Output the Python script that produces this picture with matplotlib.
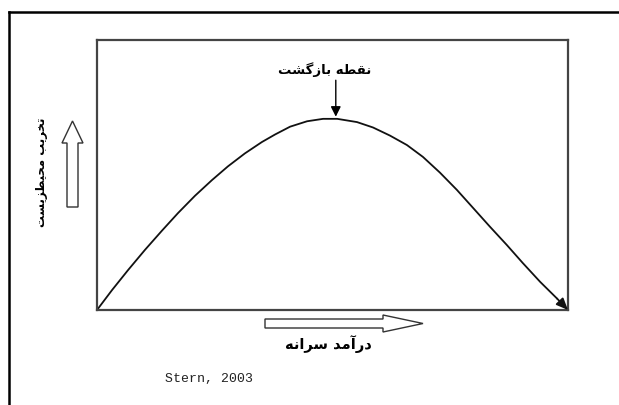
import matplotlib
matplotlib.use('Agg')
import matplotlib.pyplot as plt
from matplotlib.patches import Polygon
from matplotlib.lines import Line2D

# ---- data ----
income = [0, 3.2, 6.6, 10.2, 13.8, 17.2, 20.8, 24.4, 27.8, 31.4, 35.0, 37.8,
          41.0, 44.6, 48.0, 51.0, 55.2, 58.6, 62.2, 65.8, 69.2, 72.8, 76.4,
          79.8, 83.4, 87.0, 90.4, 94.1, 97.7, 100]
degradation = [0, 7.4, 14.8, 22.3, 29.4, 35.9, 42.3, 48.1, 53.2, 58.0, 62.2, 65.0,
               67.9, 69.9, 70.8, 70.8, 69.6, 67.6, 64.6, 61.1, 56.7, 50.9, 44.5,
               37.9, 30.9, 24.1, 17.4, 10.4, 4.2, 0]
peak_x, peak_y = 50.7, 71.1

# Persian labels (pre-shaped presentation forms, visual order)
label_peak = "\uFE96\uFEB8\uFB94\uFEAF\uFE8E\uFE91 \uFEEA\uFEC4\uFED8\uFEE7"      # نقطه بازگشت
label_y = "\uFE96\uFEB4\uFEF3\uFEB0\uFEC4\uFEF4\uFEA4\uFEE3 \uFE90\uFEF3\uFEAE\uFEA8\uFE97"  # تخریب محیطزیست
label_x = "\uFEEA\uFEE7\uFE8D\uFEAE\uFEB3 \uFEAA\uFEE3\uFE81\uFEAD\uFEA9"          # درآمد سرانه
source = "Stern, 2003"

W, H = 619, 405
fig = plt.figure(figsize=(W / 100, H / 100), dpi=100)

# overlay in pixel-like coordinates for frame and decorations
ov = fig.add_axes([0, 0, 1, 1])
ov.set_xlim(0, W)
ov.set_ylim(H, 0)
ov.axis('off')

# outer frame (top and left edges)
ov.add_line(Line2D([8.5, W], [11.5, 11.5], color='black', lw=1.8))
ov.add_line(Line2D([8.5, 8.5], [11.5, H], color='black', lw=1.8))

# hollow up arrow
up = [(67, 207), (78, 207), (78, 143), (83, 143), (72.5, 121), (62, 143), (67, 143)]
ov.add_patch(Polygon(up, closed=True, fill=False, edgecolor='#333333', lw=1.0))
# hollow right arrow
rt = [(265, 319), (383, 319), (383, 315), (423, 323.5), (383, 332), (383, 328), (265, 328)]
ov.add_patch(Polygon(rt, closed=True, fill=False, edgecolor='#333333', lw=1.0))

ov.text(41, 172, label_y, rotation=90, ha='center', va='center',
        fontsize=8.5, fontweight='bold', family='DejaVu Sans')
ov.text(328, 344, label_x, ha='center', va='center',
        fontsize=10.5, fontweight='bold', family='DejaVu Sans')
ov.text(165, 379, source, ha='left', va='center', fontsize=9.5,
        family=['Liberation Mono', 'DejaVu Sans Mono'], color='#222222')

# main chart
ax = fig.add_axes([97 / W, 1 - 310 / H, 471 / W, 270 / H])
ax.set_xlim(0, 100)
ax.set_ylim(0, 100)
ax.set_xticks([])
ax.set_yticks([])
for sp in ax.spines.values():
    sp.set_color('#444444')
    sp.set_linewidth(1.6)
ax.patch.set_alpha(0)

ax.plot(income[:-1], degradation[:-1], color='#111111', lw=1.3,
        solid_capstyle='round', solid_joinstyle='round')
ax.annotate('', xy=(income[-1], degradation[-1]),
            xytext=(income[-2], degradation[-2]),
            arrowprops=dict(arrowstyle='-|>,head_length=0.7,head_width=0.3',
                            color='#111111', lw=1.3, shrinkA=0, shrinkB=0))

# turning point arrow and label
ax.annotate('', xy=(peak_x, peak_y + 0.5), xytext=(peak_x, peak_y + 14),
            arrowprops=dict(arrowstyle='-|>,head_length=0.6,head_width=0.3',
                            color='black', lw=1.0, shrinkA=0, shrinkB=0))
ax.text(peak_x - 2.3, peak_y + 17.8, label_peak, ha='center', va='center',
        fontsize=9.5, fontweight='bold', family='DejaVu Sans')

fig.savefig('out.png', dpi=100)
